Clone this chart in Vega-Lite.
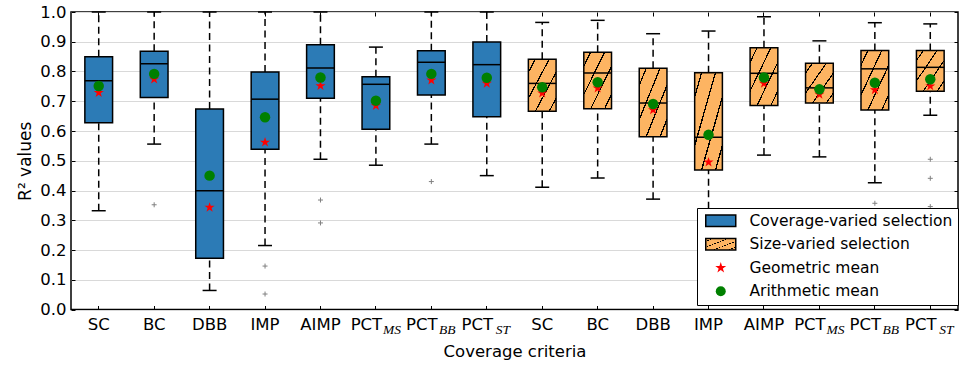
{
  "$schema": "https://vega.github.io/schema/vega-lite/v6.json",
  "width": 887,
  "height": 297.5,
  "autosize": {"type": "none"},
  "padding": {"left": 71, "top": 12, "right": 5, "bottom": 56.5},
  "config": {
    "font": "DejaVu Sans",
    "view": {"stroke": "black", "strokeWidth": 1.5},
    "axis": {
      "domain": false,
      "grid": false,
      "labelFont": "DejaVu Sans",
      "labelFontSize": 16.5,
      "labelColor": "black",
      "titleFont": "DejaVu Sans",
      "titleFontSize": 16.5,
      "titleFontWeight": "normal",
      "titleColor": "black",
      "tickColor": "black",
      "tickWidth": 1,
      "tickSize": -4
    },
    "legend": {
      "orient": "none", "legendX": 626, "legendY": 196,
      "labelFont": "DejaVu Sans", "labelFontSize": 15.5, "labelColor": "black", "labelLimit": 400,
      "symbolSize": 100, "symbolOffset": 11, "labelOffset": 21, "rowPadding": 5.5, "padding": 5,
      "fillColor": "white", "strokeColor": "black", "cornerRadius": 0,
      "symbolStrokeWidth": 1.5, "symbolOpacity": 1
    }
  },
  "datasets": {
    "boxes": [
      {"id": 1, "crit": "SC", "sel": "Coverage-varied selection", "lo": 0.332, "q1": 0.628, "med": 0.769, "q3": 0.85, "hi": 1.0, "gm": 0.729, "am": 0.751},
      {"id": 2, "crit": "BC", "sel": "Coverage-varied selection", "lo": 0.556, "q1": 0.713, "med": 0.826, "q3": 0.868, "hi": 1.0, "gm": 0.774, "am": 0.792},
      {"id": 3, "crit": "DBB", "sel": "Coverage-varied selection", "lo": 0.064, "q1": 0.172, "med": 0.399, "q3": 0.674, "hi": 1.0, "gm": 0.343, "am": 0.45},
      {"id": 4, "crit": "IMP", "sel": "Coverage-varied selection", "lo": 0.215, "q1": 0.539, "med": 0.707, "q3": 0.798, "hi": 1.0, "gm": 0.562, "am": 0.646},
      {"id": 5, "crit": "AIMP", "sel": "Coverage-varied selection", "lo": 0.505, "q1": 0.71, "med": 0.812, "q3": 0.89, "hi": 1.0, "gm": 0.752, "am": 0.78},
      {"id": 6, "crit": "PCT_MS", "sel": "Coverage-varied selection", "lo": 0.485, "q1": 0.606, "med": 0.757, "q3": 0.782, "hi": 0.882, "gm": 0.685, "am": 0.702},
      {"id": 7, "crit": "PCT_BB", "sel": "Coverage-varied selection", "lo": 0.556, "q1": 0.721, "med": 0.831, "q3": 0.87, "hi": 1.0, "gm": 0.771, "am": 0.792},
      {"id": 8, "crit": "PCT_ST", "sel": "Coverage-varied selection", "lo": 0.45, "q1": 0.648, "med": 0.823, "q3": 0.899, "hi": 1.0, "gm": 0.76, "am": 0.779},
      {"id": 9, "crit": "SC", "sel": "Size-varied selection", "lo": 0.411, "q1": 0.666, "med": 0.76, "q3": 0.841, "hi": 0.965, "gm": 0.727, "am": 0.747},
      {"id": 10, "crit": "BC", "sel": "Size-varied selection", "lo": 0.442, "q1": 0.675, "med": 0.795, "q3": 0.865, "hi": 0.972, "gm": 0.744, "am": 0.764},
      {"id": 11, "crit": "DBB", "sel": "Size-varied selection", "lo": 0.371, "q1": 0.581, "med": 0.694, "q3": 0.811, "hi": 0.927, "gm": 0.671, "am": 0.691},
      {"id": 12, "crit": "IMP", "sel": "Size-varied selection", "lo": 0.3, "q1": 0.469, "med": 0.579, "q3": 0.796, "hi": 0.936, "gm": 0.495, "am": 0.587},
      {"id": 13, "crit": "AIMP", "sel": "Size-varied selection", "lo": 0.519, "q1": 0.686, "med": 0.794, "q3": 0.88, "hi": 0.984, "gm": 0.76, "am": 0.78},
      {"id": 14, "crit": "PCT_MS", "sel": "Size-varied selection", "lo": 0.513, "q1": 0.694, "med": 0.745, "q3": 0.828, "hi": 0.903, "gm": 0.723, "am": 0.74},
      {"id": 15, "crit": "PCT_BB", "sel": "Size-varied selection", "lo": 0.426, "q1": 0.671, "med": 0.809, "q3": 0.871, "hi": 0.964, "gm": 0.738, "am": 0.762},
      {"id": 16, "crit": "PCT_ST", "sel": "Size-varied selection", "lo": 0.653, "q1": 0.734, "med": 0.814, "q3": 0.871, "hi": 0.96, "gm": 0.751, "am": 0.774}
    ],
    "outliers": [
      {"id": 2, "v": 0.352},
      {"id": 4, "v": 0.146},
      {"id": 4, "v": 0.052},
      {"id": 5, "v": 0.368},
      {"id": 5, "v": 0.291},
      {"id": 7, "v": 0.43},
      {"id": 15, "v": 0.357},
      {"id": 16, "v": 0.505},
      {"id": 16, "v": 0.441},
      {"id": 16, "v": 0.346}
    ]
  },
  "layer": [
    {
      "data": {"name": "boxes"},
      "mark": {"type": "rule", "stroke": "black", "strokeWidth": 1.5, "strokeDash": [7, 4.5]},
      "encoding": {
        "x": {"field": "id", "type": "ordinal", "scale": {"type": "band", "domain": [1,2,3,4,5,6,7,8,9,10,11,12,13,14,15,16], "paddingInner": 0, "paddingOuter": 0}, "axis": null},
        "y": {"field": "q3", "type": "quantitative", "scale": {"domain": [0, 1], "nice": false, "zero": false}, "axis": null},
        "y2": {"field": "hi"}
      }
    },
    {
      "data": {"name": "boxes"},
      "mark": {"type": "rule", "stroke": "black", "strokeWidth": 1.5, "strokeDash": [7, 4.5]},
      "encoding": {
        "x": {"field": "id", "type": "ordinal", "axis": null},
        "y": {"field": "lo", "type": "quantitative", "axis": null},
        "y2": {"field": "q1"}
      }
    },
    {
      "data": {"name": "boxes"},
      "mark": {"type": "tick", "color": "black", "opacity": 1, "size": 14, "thickness": 1.5},
      "encoding": {
        "x": {"field": "id", "type": "ordinal", "axis": null},
        "y": {"field": "hi", "type": "quantitative", "axis": null}
      }
    },
    {
      "data": {"name": "boxes"},
      "mark": {"type": "tick", "color": "black", "opacity": 1, "size": 14, "thickness": 1.5},
      "encoding": {
        "x": {"field": "id", "type": "ordinal", "axis": null},
        "y": {"field": "lo", "type": "quantitative", "axis": null}
      }
    },
    {
      "data": {"name": "boxes"},
      "mark": {"type": "bar", "strokeWidth": 1.5, "width": {"band": 0.5}, "opacity": 1},
      "encoding": {
        "x": {
          "field": "id", "type": "ordinal",
          "axis": {
            "orient": "bottom", "title": "Coverage criteria", "labelAngle": 0,
            "labelExpr": "['SC','BC','DBB','IMP','AIMP','PCT','PCT','PCT'][(datum.value - 1) % 8]",
            "labelOffset": {"condition": {"test": "datum.value == 6 || datum.value == 7 || datum.value == 8 || datum.value >= 14", "value": -9.5}, "value": 0},
            "labelPadding": 10.5, "titlePadding": 11, "labelBaseline": "top"
          }
        },
        "y": {
          "field": "q1", "type": "quantitative",
          "axis": {
            "orient": "left", "title": "R² values", "values": [0, 0.1, 0.2, 0.3, 0.4, 0.5, 0.6, 0.7, 0.8, 0.9, 1.0],
            "format": ".1f", "grid": true, "gridColor": "#d9d9d9", "gridWidth": 1, "labelPadding": 9, "titlePadding": 5, "titleFontSize": 17
          }
        },
        "y2": {"field": "q3"},
        "fill": {
          "field": "sel", "type": "nominal", "legend": {"title": null},
          "scale": {
            "domain": ["Coverage-varied selection", "Size-varied selection", "Geometric mean", "Arithmetic mean"],
            "range": ["#2c7bb6",
              {"expr": "{gradient: 'linear', x1: 0, y1: 0, x2: 1, y2: 1, stops: [{offset: 0, color: '#fdb462'}, {offset: 0.113, color: '#fdb462'}, {offset: 0.113, color: 'black'}, {offset: 0.137, color: 'black'}, {offset: 0.137, color: '#fdb462'}, {offset: 0.363, color: '#fdb462'}, {offset: 0.363, color: 'black'}, {offset: 0.387, color: 'black'}, {offset: 0.387, color: '#fdb462'}, {offset: 0.613, color: '#fdb462'}, {offset: 0.613, color: 'black'}, {offset: 0.637, color: 'black'}, {offset: 0.637, color: '#fdb462'}, {offset: 0.863, color: '#fdb462'}, {offset: 0.863, color: 'black'}, {offset: 0.887, color: 'black'}, {offset: 0.887, color: '#fdb462'}, {offset: 1, color: '#fdb462'}]}"},
              "red", "green"]
          }
        },
        "stroke": {
          "field": "sel", "type": "nominal", "legend": {"title": null},
          "scale": {
            "domain": ["Coverage-varied selection", "Size-varied selection", "Geometric mean", "Arithmetic mean"],
            "range": ["black", "black", "transparent", "transparent"]
          }
        }
      }
    },
    {
      "data": {"name": "boxes"},
      "mark": {"type": "tick", "color": "black", "opacity": 1, "size": 27.7, "thickness": 1.5},
      "encoding": {
        "x": {"field": "id", "type": "ordinal", "axis": null},
        "y": {"field": "med", "type": "quantitative", "axis": null}
      }
    },
    {
      "data": {"name": "outliers"},
      "mark": {"type": "point", "shape": "M-1,0H1M0,-1V1", "filled": false, "stroke": "#808080", "strokeWidth": 1, "size": 25, "opacity": 1},
      "encoding": {
        "x": {"field": "id", "type": "ordinal", "axis": null},
        "y": {"field": "v", "type": "quantitative", "axis": null}
      }
    },
    {
      "data": {"name": "boxes"},
      "mark": {"type": "point", "filled": true, "strokeWidth": 0, "size": 85, "opacity": 1},
      "encoding": {
        "x": {"field": "id", "type": "ordinal", "axis": {"orient": "top", "labels": false, "title": null, "grid": false}},
        "y": {"field": "gm", "type": "quantitative", "axis": null},
        "fill": {"datum": "Geometric mean", "type": "nominal", "legend": {"title": null}},
        "stroke": {"datum": "Geometric mean", "type": "nominal", "legend": {"title": null}},
        "shape": {
          "datum": "Geometric mean", "type": "nominal", "legend": {"title": null},
          "scale": {
            "domain": ["Coverage-varied selection", "Size-varied selection", "Geometric mean", "Arithmetic mean"],
            "range": ["M-3,-1.15H3V1.15H-3Z", "M-3,-1.15H3V1.15H-3Z", "M0,-1.15L0.258,-0.355L1.094,-0.355L0.417,0.136L0.676,0.93L0,0.439L-0.676,0.93L-0.417,0.136L-1.094,-0.355L-0.258,-0.355Z", "circle"]
          }
        }
      }
    },
    {
      "data": {"name": "boxes"},
      "mark": {"type": "point", "filled": true, "strokeWidth": 0, "size": 110, "opacity": 1},
      "encoding": {
        "x": {
          "field": "id", "type": "ordinal",
          "axis": {
            "orient": "bottom", "ticks": false, "title": null, "grid": false, "labelAngle": 0,
            "labelExpr": "datum.value == 6 || datum.value == 14 ? 'MS' : datum.value == 7 || datum.value == 15 ? 'BB' : datum.value == 8 || datum.value == 16 ? 'ST' : ''",
            "labelFont": "Liberation Serif", "labelFontStyle": "italic", "labelFontSize": 13.5,
            "labelOffset": 16, "labelPadding": 12.8, "labelBaseline": "top"
          }
        },
        "y": {
          "field": "am", "type": "quantitative",
          "axis": {"orient": "right", "labels": false, "title": null, "grid": false, "values": [0, 0.1, 0.2, 0.3, 0.4, 0.5, 0.6, 0.7, 0.8, 0.9, 1.0]}
        },
        "fill": {"datum": "Arithmetic mean", "type": "nominal", "legend": {"title": null}},
        "stroke": {"datum": "Arithmetic mean", "type": "nominal", "legend": {"title": null}},
        "shape": {"datum": "Arithmetic mean", "type": "nominal", "legend": {"title": null}}
      }
    }
  ],
  "resolve": {"axis": {"x": "independent", "y": "independent"}}
}
